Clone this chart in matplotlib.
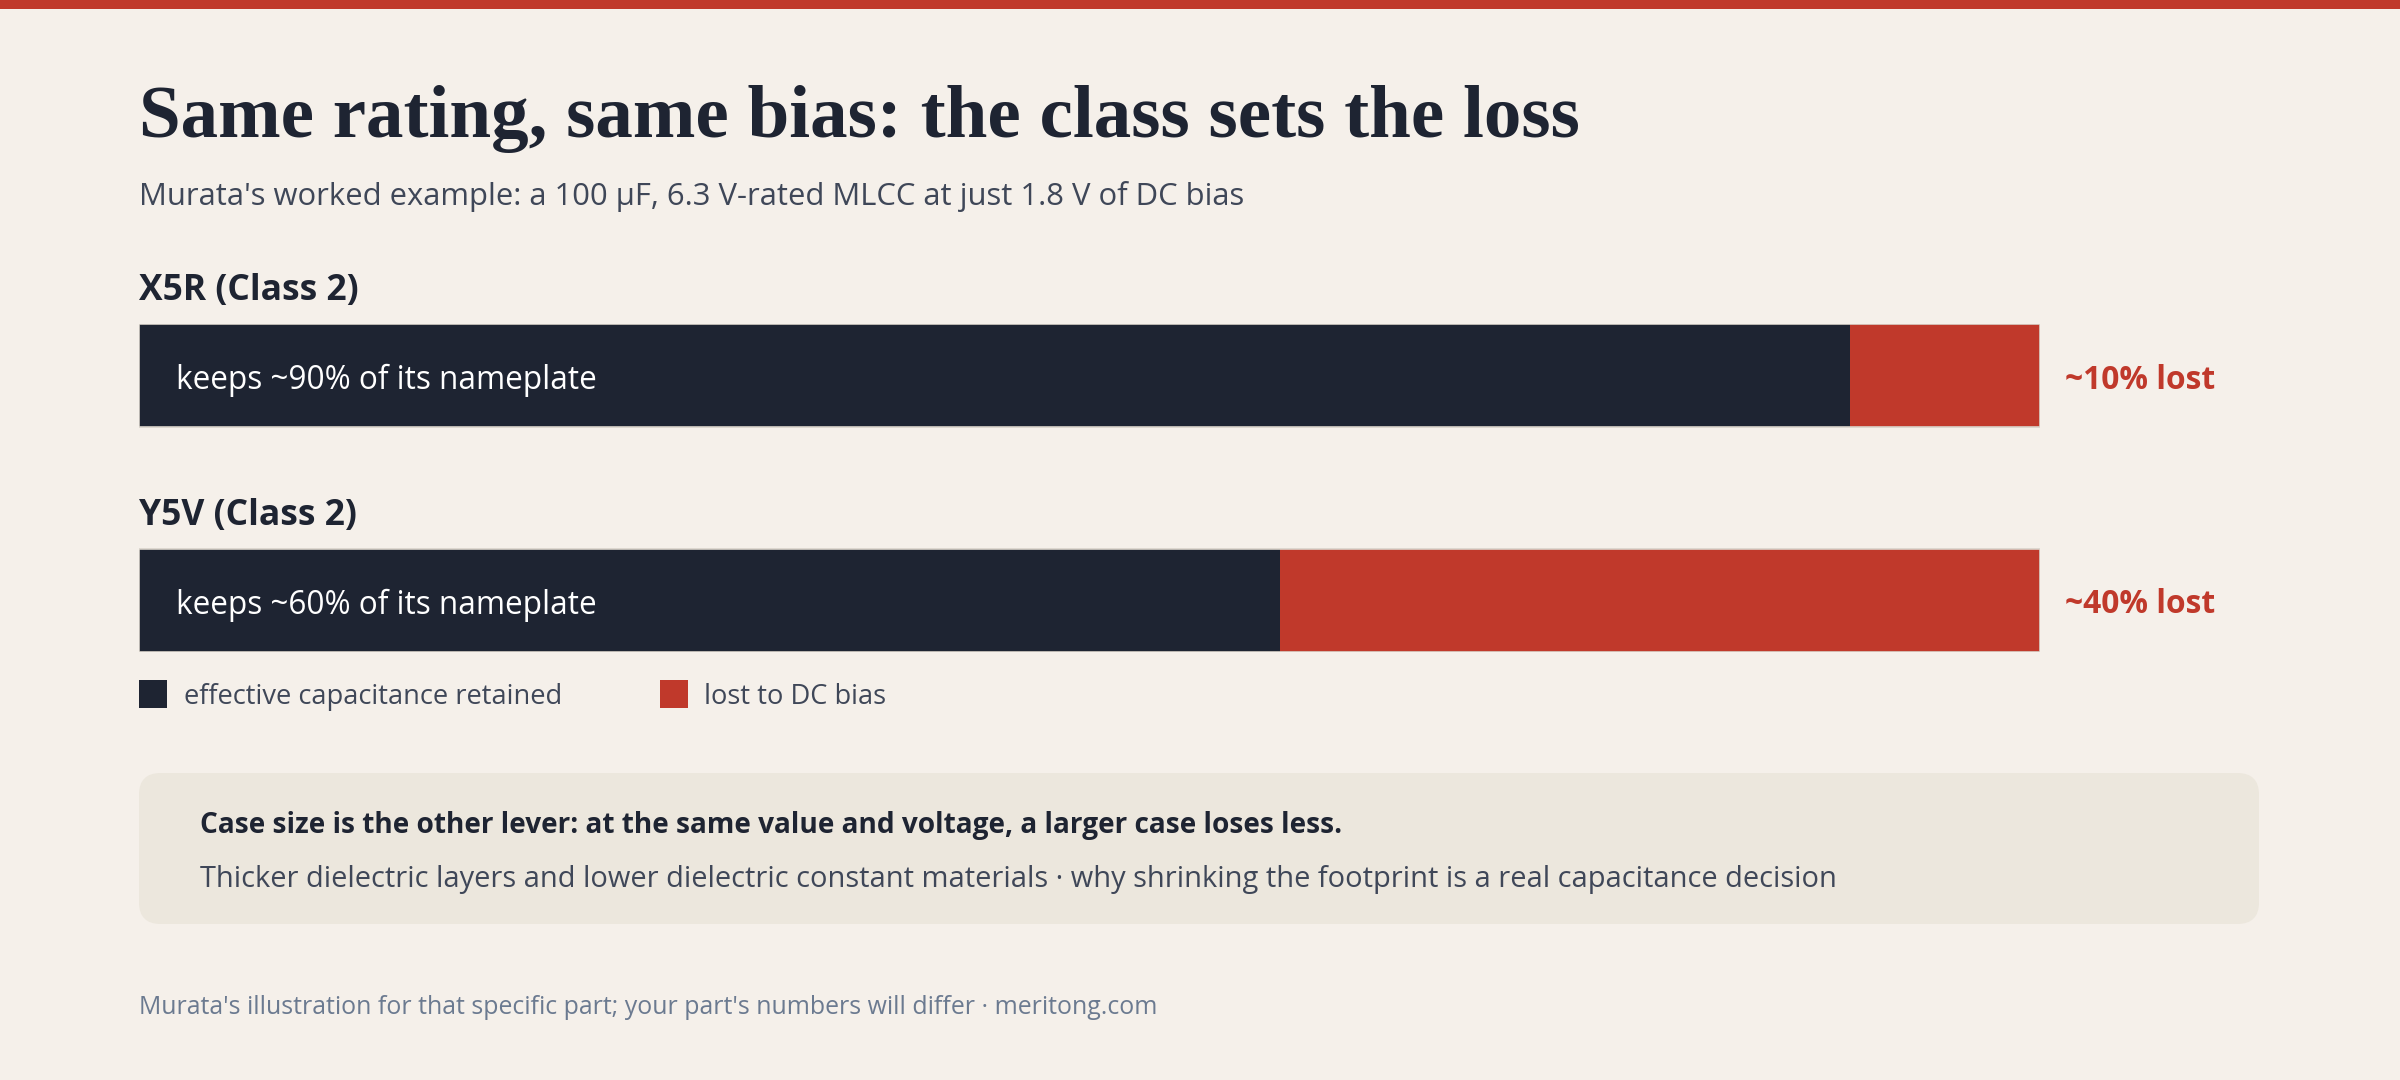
import matplotlib
matplotlib.use("Agg")
import matplotlib.pyplot as plt
from matplotlib.patches import Rectangle, FancyBboxPatch

# data
classes = ["X5R (Class 2)", "Y5V (Class 2)"]
retained = [90, 60]
lost = [10, 40]
keep_labels = ["keeps ~90% of its nameplate", "keeps ~60% of its nameplate"]
lost_labels = ["~10% lost", "~40% lost"]
legend_labels = ["effective capacitance retained", "lost to DC bias"]

title = "Same rating, same bias: the class sets the loss"
subtitle = "Murata's worked example: a 100 \u00b5F, 6.3 V-rated MLCC at just 1.8 V of DC bias"
note_bold = "Case size is the other lever: at the same value and voltage, a larger case loses less."
note_text = ("Thicker dielectric layers and lower dielectric constant materials \u00b7 "
             "why shrinking the footprint is a real capacitance decision")
footer = "Murata's illustration for that specific part; your part's numbers will differ \u00b7 meritong.com"

BG = "#f5f0ea"
NAVY = "#1e2432"
RED = "#c0392b"
SUB = "#3f4758"
FOOT = "#6b7a90"
BOX = "#ece7dd"

SANS = ["Open Sans", "Noto Sans", "DejaVu Sans"]
SERIF = ["Liberation Serif", "DejaVu Serif"]

W, H = 2400, 1080
fig = plt.figure(figsize=(24, 10.8), dpi=100, facecolor=BG)


def fx(px):
    return px / W


def fy(py):
    return 1 - py / H


# top accent strip
fig.patches.append(Rectangle((0, fy(9)), 1, 9 / H, transform=fig.transFigure,
                             facecolor=RED, edgecolor="none"))

fig.text(fx(139), fy(137), title, fontsize=54, fontweight="bold", family=SERIF,
         color=NAVY, va="baseline")
fig.text(fx(139), fy(197), subtitle, fontsize=22.3, family=SANS, color=SUB, va="center")

# bars
left, right = 139, 2040
top, bottom = 324, 652
ax = fig.add_axes([fx(left), fy(bottom), fx(right - left), (bottom - top) / H])
ax.set_facecolor("none")
ypos = list(range(len(classes)))
bh = 0.459
ax.barh(ypos, retained, height=bh, color=NAVY, edgecolor="none")
ax.barh(ypos, lost, left=retained, height=bh, color=RED, edgecolor="none")
ax.barh(ypos, [r + l for r, l in zip(retained, lost)], height=bh, color="none",
        edgecolor="#d9d3ca", linewidth=1.2)
ax.set_xlim(0, 100)
ax.set_ylim(len(classes) - 1 + bh / 2, -bh / 2)
ax.axis("off")

for i in ypos:
    ax.text(0, i - 0.375, classes[i], fontsize=25.5, fontweight="bold", family=SANS,
            color=NAVY, va="center", ha="left", clip_on=False)
    ax.text(1.95, i + 0.02, keep_labels[i], fontsize=22.7, family=SANS, color="white",
            va="center", ha="left")
    ax.text(101.3, i + 0.02, lost_labels[i], fontsize=22.9, fontweight="bold", family=SANS,
            color=RED, va="center", ha="left", clip_on=False)

# legend
for (x0, tx), lab, col in zip([(139, 184), (660, 704)], legend_labels, [NAVY, RED]):
    fig.patches.append(Rectangle((fx(x0), fy(708)), fx(28), 28 / H,
                                 transform=fig.transFigure, facecolor=col, edgecolor="none"))
    fig.text(fx(tx), fy(697), lab, fontsize=19.6, family=SANS, color=SUB, va="center")

# callout box
fig.patches.append(FancyBboxPatch((fx(139), fy(924)), fx(2259 - 139), (924 - 773) / H,
                                  boxstyle="round,pad=0,rounding_size=0.009",
                                  transform=fig.transFigure, facecolor=BOX,
                                  edgecolor="none", mutation_aspect=W / H))
fig.text(fx(200), fy(826), note_bold, fontsize=20.2, fontweight="bold", family=SANS,
         color=NAVY, va="center")
fig.text(fx(200), fy(879), note_text, fontsize=20.85, family=SANS, color=SUB, va="center")

fig.text(fx(139), fy(1007), footer, fontsize=17.95, family=SANS, color=FOOT, va="center")

fig.savefig("out.png", dpi=100, facecolor=BG)
